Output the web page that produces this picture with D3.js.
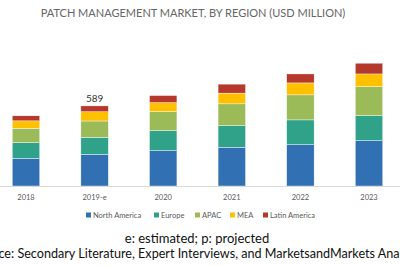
<!DOCTYPE html>
<html>
<head>
<meta charset="utf-8">
<script src="https://cdn.jsdelivr.net/npm/d3@7"></script>
<style>
  body { margin: 0; background: #fff; }
  svg { display: block; }
</style>
</head>
<body>
<div id="chart"></div>
<script>
// years and regional values (USD million)
const years = ["2018", "2019-e", "2020", "2021", "2022", "2023"]
const regions = ["North America", "Europe", "APAC", "MEA", "Latin America"]
const northAmerica = [204, 233, 260, 285, 304, 334]
const europe = [115, 125, 147, 159, 182, 184]
const apac = [106, 120, 140, 160, 184, 213]
const mea = [54, 68, 66, 79, 88, 93]
const latinAmerica = [37, 43, 52, 66, 66, 79]
const colors = ["#3070b3", "#30a28a", "#9bbb59", "#ffc000", "#b5382c"]
const labelled = {"2019-e": 589}

const width = 400, height = 266
const font = "Lato, 'Open Sans', sans-serif"

const table = years.map((y, i) => ({
    year: y,
    "North America": northAmerica[i],
    "Europe": europe[i],
    "APAC": apac[i],
    "MEA": mea[i],
    "Latin America": latinAmerica[i]
}))

const series = d3.stack().keys(regions)(table)

const x = d3.scaleBand()
    .domain(years)
    .range([-8.3, 403.3])
    .paddingInner(0.6)
    .paddingOuter(0.3)

const y = d3.scaleLinear()
    .domain([0, 1000])
    .range([186, 50])

const color = d3.scaleOrdinal().domain(regions).range(colors)

const svg = d3.select("#chart")
    .append("svg")
    .attr("width", width)
    .attr("height", height)
    .attr("font-family", font)

// title
svg.append("text")
    .attr("x", 193)
    .attr("y", 17)
    .attr("text-anchor", "middle")
    .attr("fill", "#666")
    .attr("font-size", 11)
    .text("PATCH MANAGEMENT MARKET, BY REGION (USD MILLION)")

// stacked bars
svg.append("g")
    .selectAll("g")
    .data(series)
    .join("g")
    .attr("fill", d => color(d.key))
    .selectAll("rect")
    .data(d => d)
    .join("rect")
    .attr("x", d => x(d.data.year))
    .attr("width", x.bandwidth())
    .attr("y", d => y(d[1]))
    .attr("height", d => y(d[0]) - y(d[1]))
    .attr("stroke", "#fff")
    .attr("stroke-width", 0.4)

// axis
const xAxis = svg.append("g")
    .attr("transform", `translate(0,${y(0)})`)
    .call(d3.axisBottom(x).tickSize(0).tickPadding(9))
xAxis.select(".domain").attr("stroke", "#d9d9d9")
xAxis.selectAll("text")
    .attr("fill", "#595959")
    .attr("font-size", 7.5)
    .attr("font-family", font)

// value label on the estimated year
svg.append("g")
    .selectAll("text")
    .data(Object.entries(labelled))
    .join("text")
    .attr("x", d => x(d[0]) + x.bandwidth() / 2)
    .attr("y", d => y(d[1]) - 4)
    .attr("text-anchor", "middle")
    .attr("fill", "#333")
    .attr("font-size", 10)
    .text(d => d[1])

// legend
const legendX = [86, 154, 195, 230, 263]
const legend = svg.append("g")
    .selectAll("g")
    .data(regions)
    .join("g")
    .attr("transform", (d, i) => `translate(${legendX[i]},215)`)
legend.append("rect")
    .attr("x", 0)
    .attr("y", -2.5)
    .attr("width", 5)
    .attr("height", 5)
    .attr("fill", d => color(d))
legend.append("text")
    .attr("x", 7)
    .attr("y", 0)
    .attr("dy", "0.35em")
    .attr("fill", "#595959")
    .attr("font-size", 7.5)
    .text(d => d)

// notes
svg.append("text")
    .attr("x", 197)
    .attr("y", 243)
    .attr("text-anchor", "middle")
    .attr("fill", "#111")
    .attr("font-size", 13)
    .text("e: estimated; p: projected")

svg.append("text")
    .attr("x", 198)
    .attr("y", 258)
    .attr("text-anchor", "middle")
    .attr("fill", "#111")
    .attr("font-size", 12.6)
    .text("Source: Secondary Literature, Expert Interviews, and MarketsandMarkets Analysis")
</script>
</body>
</html>
